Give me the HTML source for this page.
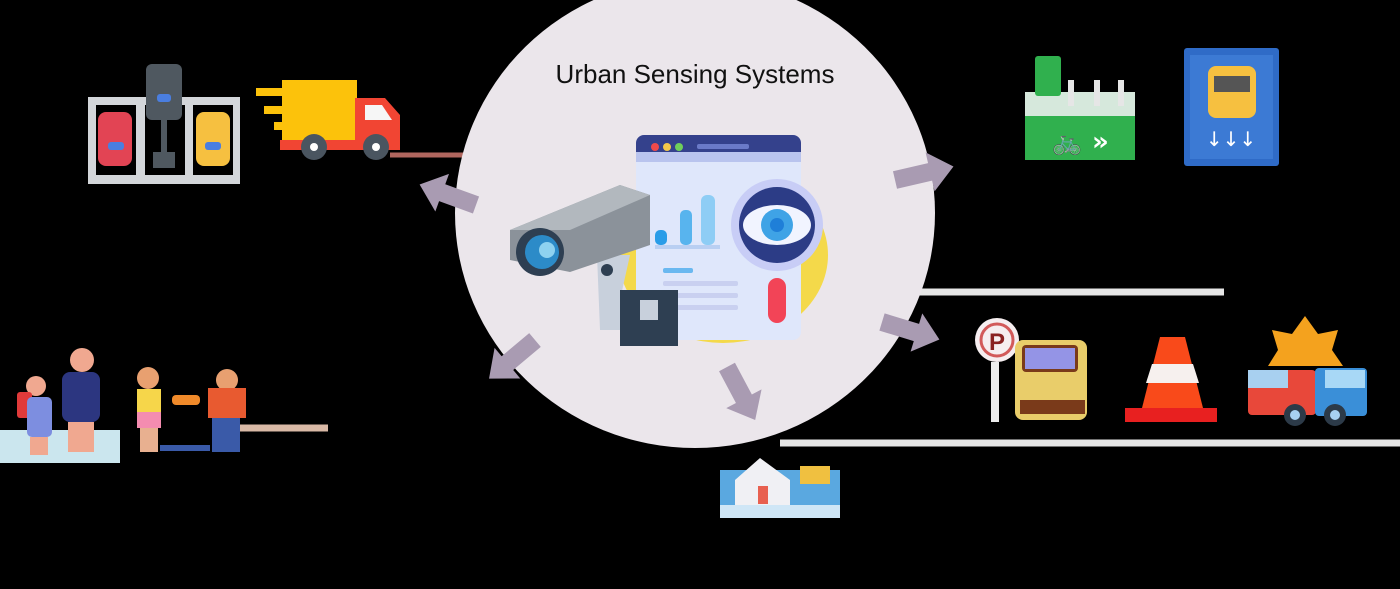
<!DOCTYPE html>
<html><head><meta charset="utf-8"><style>
html,body{margin:0;padding:0;background:#000;}
svg{display:block}
</style></head><body>
<svg width="1400" height="589" viewBox="0 0 1400 589" xmlns="http://www.w3.org/2000/svg">
<defs>
<polygon id="arr" points="0,-9 36,-9 36,-20 60,0 36,20 36,9 0,9" fill="#a99bb2"/>
</defs>
<rect width="1400" height="589" fill="#000"/>
<!-- lines -->
<line x1="390" y1="155" x2="465" y2="155" stroke="#b0665e" stroke-width="5"/>
<line x1="880" y1="292" x2="1224" y2="292" stroke="#e6e6e6" stroke-width="7"/>
<line x1="780" y1="443" x2="1400" y2="443" stroke="#e6e6e6" stroke-width="7"/>
<line x1="240" y1="428" x2="328" y2="428" stroke="#d9b9a6" stroke-width="7"/>
<!-- circle -->
<ellipse cx="695" cy="213" rx="240" ry="235" fill="#ebe6eb"/>
<text x="695" y="83" text-anchor="middle" font-family="Liberation Sans, sans-serif" font-size="26" fill="#111">Urban Sensing Systems</text>
<!-- arrows -->
<use href="#arr" transform="translate(476,205) rotate(-160)"/>
<use href="#arr" transform="translate(895,180) rotate(-13)"/>
<use href="#arr" transform="translate(882,322) rotate(17)"/>
<use href="#arr" transform="translate(535,340) rotate(140)"/>
<use href="#arr" transform="translate(727,367) rotate(62)"/>
<!-- central illustration -->
<ellipse cx="723" cy="255" rx="105" ry="88" fill="#f4d94a"/>
<rect x="636" y="135" width="165" height="205" rx="8" fill="#dfe7fb"/>
<rect x="636" y="135" width="165" height="25" rx="8" fill="#34418c"/>
<rect x="636" y="152" width="165" height="10" fill="#b9c4ee"/>
<circle cx="655" cy="147" r="4" fill="#f04a4a"/><circle cx="667" cy="147" r="4" fill="#f4c84a"/><circle cx="679" cy="147" r="4" fill="#6fcf5a"/>
<rect x="697" y="144" width="52" height="5" rx="2" fill="#6a7ac8"/>
<rect x="655" y="230" width="12" height="15" rx="5" fill="#2a9de8"/>
<rect x="680" y="210" width="12" height="35" rx="5" fill="#58b4ee"/>
<rect x="701" y="195" width="14" height="50" rx="6" fill="#8ecdf5"/>
<rect x="655" y="245" width="65" height="4" fill="#b9cff2"/>
<rect x="663" y="268" width="30" height="5" rx="2" fill="#6ab8f0"/>
<rect x="663" y="281" width="75" height="5" rx="2" fill="#c9d0f0"/>
<rect x="663" y="293" width="75" height="5" rx="2" fill="#c9d0f0"/>
<rect x="663" y="305" width="75" height="5" rx="2" fill="#c9d0f0"/>
<circle cx="777" cy="225" r="46" fill="#c8cdf6"/>
<circle cx="777" cy="225" r="38" fill="#2c3c86"/>
<ellipse cx="777" cy="225" rx="34" ry="20" fill="#f1f4ff"/>
<circle cx="777" cy="225" r="16" fill="#3fa3e6"/><circle cx="777" cy="225" r="7" fill="#1f7fd8"/>
<rect x="768" y="278" width="18" height="45" rx="9" fill="#f24457"/>
<!-- camera -->
<path d="M597 255 L630 255 L620 300 L655 300 L655 330 L600 330 Z" fill="#c8d0dc"/>
<rect x="620" y="290" width="58" height="56" fill="#2e3f52"/>
<path d="M640 300 h18 v20 h-18 z" fill="#c8d0dc"/>
<circle cx="607" cy="270" r="6" fill="#2e3f52"/>
<polygon points="510,230 620,185 650,195 650,245 570,272 510,260" fill="#8b929a"/>
<polygon points="510,230 620,185 650,195 570,230" fill="#b2b8be"/>
<circle cx="540" cy="252" r="24" fill="#2e3f52"/>
<circle cx="542" cy="252" r="17" fill="#2c8bc8"/>
<circle cx="547" cy="250" r="8" fill="#8ed2f0"/>
<!-- parking lot -->
<rect x="88" y="97" width="152" height="87" fill="#d3d6da"/>
<rect x="96" y="105" width="40" height="70" fill="#000"/>
<rect x="145" y="105" width="40" height="70" fill="#000"/>
<rect x="193" y="105" width="40" height="70" fill="#000"/>
<rect x="98" y="112" width="34" height="54" rx="8" fill="#e24454"/>
<rect x="108" y="142" width="16" height="8" rx="3" fill="#4a7ee0"/>
<rect x="196" y="112" width="34" height="54" rx="8" fill="#f6c040"/>
<rect x="205" y="142" width="16" height="8" rx="3" fill="#4a7ee0"/>
<rect x="146" y="64" width="36" height="56" rx="6" fill="#4f5860"/>
<rect x="157" y="94" width="14" height="8" rx="3" fill="#4a7ee0"/>
<rect x="161" y="120" width="6" height="45" fill="#4f5860"/>
<rect x="153" y="152" width="22" height="16" fill="#4f5860"/>
<!-- truck -->
<rect x="256" y="88" width="45" height="8" fill="#fcc20b"/>
<rect x="264" y="106" width="45" height="8" fill="#fcc20b"/>
<rect x="274" y="122" width="40" height="8" fill="#fcc20b"/>
<rect x="282" y="80" width="75" height="60" fill="#fcc20b"/>
<polygon points="355,98 385,98 400,115 400,150 280,150 280,140 355,140" fill="#f14533"/>
<polygon points="365,105 382,105 392,120 365,120" fill="#f6f6f6"/>
<circle cx="314" cy="147" r="13" fill="#4a5560"/><circle cx="314" cy="147" r="4" fill="#fff"/>
<circle cx="376" cy="147" r="13" fill="#4a5560"/><circle cx="376" cy="147" r="4" fill="#fff"/>
<!-- bike lane -->
<rect x="1025" y="92" width="110" height="68" fill="#30b04e"/>
<rect x="1025" y="92" width="110" height="24" fill="#d6e8dc"/>
<rect x="1035" y="56" width="26" height="40" rx="3" fill="#30b04e"/>
<rect x="1068" y="80" width="6" height="26" fill="#e6e6e6"/><rect x="1094" y="80" width="6" height="26" fill="#e6e6e6"/><rect x="1118" y="80" width="6" height="26" fill="#e6e6e6"/>
<text x="1052" y="150" font-family="DejaVu Sans, sans-serif" font-size="24" fill="#fff">🚲</text>
<text x="1092" y="150" font-family="DejaVu Sans, sans-serif" font-size="26" font-weight="bold" fill="#fff">»</text>
<!-- bus lane -->
<rect x="1184" y="48" width="95" height="118" rx="3" fill="#2f6bc7"/>
<rect x="1190" y="55" width="83" height="104" fill="#3c7ad4"/>
<rect x="1208" y="66" width="48" height="52" rx="8" fill="#f6c040"/>
<rect x="1214" y="76" width="36" height="16" fill="#555"/>
<text x="1231" y="146" text-anchor="middle" font-family="DejaVu Sans, sans-serif" font-size="20" fill="#fff">↓↓↓</text>
<!-- no parking + truck -->
<circle cx="997" cy="340" r="22" fill="#f6eef0"/>
<circle cx="997" cy="340" r="16" fill="none" stroke="#d25a5a" stroke-width="3"/>
<text x="997" y="350" text-anchor="middle" font-family="Liberation Sans, sans-serif" font-weight="bold" font-size="24" fill="#8a2222">P</text>
<rect x="991" y="362" width="8" height="60" fill="#eee"/>
<rect x="1015" y="340" width="72" height="80" rx="8" fill="#e9cd6a"/>
<rect x="1022" y="345" width="56" height="27" rx="4" fill="#7a3a1a"/>
<rect x="1025" y="348" width="50" height="21" fill="#9494e6"/>
<rect x="1020" y="400" width="65" height="14" fill="#7a3a1a"/>
<!-- cone -->
<polygon points="1160,337 1185,337 1203,408 1142,408" fill="#f94a1a"/>
<polygon points="1152,364 1193,364 1199,383 1146,383" fill="#f6f0ee"/>
<rect x="1125" y="408" width="92" height="14" fill="#e82020"/>
<!-- crash -->
<polygon points="1305,316 1318,334 1338,330 1332,350 1343,366 1268,366 1278,350 1272,330 1292,334" fill="#f4a21e"/>
<rect x="1248" y="370" width="68" height="45" rx="4" fill="#e8483a"/>
<rect x="1248" y="370" width="40" height="18" fill="#a8d0f0"/>
<rect x="1315" y="368" width="52" height="48" rx="4" fill="#3a8fd8"/>
<rect x="1325" y="370" width="40" height="18" fill="#a8d8f6"/>
<circle cx="1295" cy="415" r="11" fill="#2c3a48"/><circle cx="1295" cy="415" r="5" fill="#a8d0f0"/>
<circle cx="1335" cy="415" r="11" fill="#2c3a48"/><circle cx="1335" cy="415" r="5" fill="#a8d0f0"/>
<!-- flood -->
<rect x="720" y="470" width="120" height="48" fill="#5aa8e0"/>
<polygon points="735,480 760,458 790,480 790,505 735,505" fill="#f0f0f4"/>
<rect x="758" y="486" width="10" height="18" fill="#e86050"/>
<rect x="800" y="466" width="30" height="18" fill="#f0c040"/>
<rect x="720" y="505" width="120" height="13" fill="#cfe6f6"/>
<!-- people -->
<rect x="0" y="430" width="120" height="33" fill="#cbe6ee"/>
<circle cx="36" cy="386" r="10" fill="#f0a890"/>
<rect x="17" y="392" width="15" height="26" rx="3" fill="#e03a3a"/>
<rect x="27" y="397" width="25" height="40" rx="5" fill="#7d8ee0"/>
<rect x="30" y="437" width="18" height="18" fill="#f0a890"/>
<circle cx="82" cy="360" r="12" fill="#f0a890"/>
<rect x="62" y="372" width="38" height="50" rx="8" fill="#2c3680"/>
<rect x="68" y="422" width="26" height="30" fill="#f0a890"/>
<circle cx="148" cy="378" r="11" fill="#e8a070"/>
<rect x="137" y="389" width="24" height="23" fill="#f6d64a"/>
<rect x="137" y="412" width="24" height="16" fill="#f48cb0"/>
<rect x="140" y="428" width="18" height="24" fill="#e8b090"/>
<rect x="172" y="395" width="28" height="10" rx="4" fill="#f08a2a"/>
<circle cx="227" cy="380" r="11" fill="#e8a070"/>
<rect x="208" y="388" width="38" height="30" fill="#e85a30"/>
<rect x="212" y="418" width="28" height="34" fill="#3a5aa8"/>
<rect x="160" y="445" width="50" height="6" fill="#3a5aa8"/>
</svg>
</body></html>
